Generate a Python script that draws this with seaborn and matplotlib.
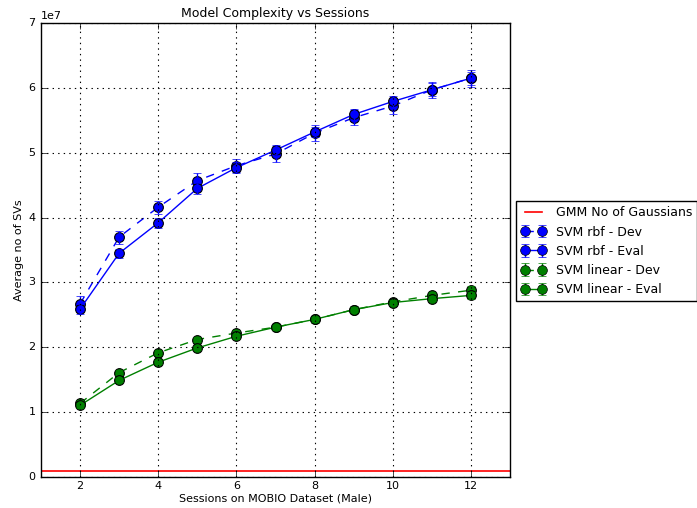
import matplotlib
matplotlib.use("Agg")
import matplotlib.pyplot as plt
import seaborn as sns
import numpy as np

sessions = [2, 3, 4, 5, 6, 7, 8, 9, 10, 11, 12]
rbf_dev = [2.67e7, 3.70e7, 4.16e7, 4.57e7, 4.80e7, 4.98e7, 5.30e7, 5.54e7, 5.72e7, 5.97e7, 6.15e7]
rbf_dev_err = [0.12e7, 0.10e7, 0.10e7, 0.12e7, 0.10e7, 0.12e7, 0.12e7, 0.12e7, 0.12e7, 0.12e7, 0.13e7]
rbf_eval = [2.59e7, 3.45e7, 3.92e7, 4.45e7, 4.77e7, 5.04e7, 5.32e7, 5.59e7, 5.79e7, 5.97e7, 6.15e7]
rbf_eval_err = [0.08e7, 0.07e7, 0.08e7, 0.08e7, 0.08e7, 0.08e7, 0.08e7, 0.08e7, 0.08e7, 0.10e7, 0.10e7]
lin_dev = [1.135e7, 1.61e7, 1.915e7, 2.12e7, 2.22e7, 2.31e7, 2.43e7, 2.58e7, 2.70e7, 2.80e7, 2.88e7]
lin_dev_err = [0.05e7, 0.04e7, 0.04e7, 0.04e7, 0.04e7, 0.05e7, 0.05e7, 0.05e7, 0.05e7, 0.05e7, 0.06e7]
lin_eval = [1.105e7, 1.49e7, 1.77e7, 1.99e7, 2.17e7, 2.31e7, 2.43e7, 2.58e7, 2.69e7, 2.75e7, 2.80e7]
lin_eval_err = [0.04e7, 0.03e7, 0.03e7, 0.03e7, 0.04e7, 0.04e7, 0.04e7, 0.04e7, 0.04e7, 0.04e7, 0.05e7]
gmm_gaussians = 1.0e6

sns.set_style("white")
plt.style.use("classic")
plt.rcParams["font.family"] = ["DejaVu Sans"]
plt.rcParams["font.size"] = 8

fig = plt.figure(figsize=(6.97, 5.08), dpi=100, facecolor="white")
ax = fig.add_axes([41/697, 1-477/508, (510-41)/697, (477-23)/508])

ax.axhline(gmm_gaussians, color="r", lw=1.2)

series = [
    (rbf_dev, rbf_dev_err, "b", "--"),
    (rbf_eval, rbf_eval_err, "b", "-"),
    (lin_dev, lin_dev_err, "g", "--"),
    (lin_eval, lin_eval_err, "g", "-"),
]
for vals, errs, c, ls in series:
    sns.lineplot(x=sessions, y=vals, ax=ax, color=c, linestyle=ls, marker="o",
                 markersize=7, markeredgecolor="k", markeredgewidth=0.8, lw=1.0,
                 legend=False, errorbar=None)
    ax.errorbar(sessions, vals, yerr=errs, fmt="none", ecolor=c, capsize=3, elinewidth=1)

labels = ["GMM No of Gaussians", "SVM rbf - Dev", "SVM rbf - Eval", "SVM linear - Dev", "SVM linear - Eval"]
handles = [plt.Line2D([], [], color="r", lw=1.2)]
for vals, errs, c, ls in series:
    h = ax.errorbar([np.nan], [np.nan], yerr=[np.nan], fmt="o", linestyle=ls, color=c,
                    markersize=7, markeredgecolor="k", markerfacecolor=c, capsize=3, lw=1.0)
    handles.append(h)

ax.set_xlim(1, 13)
ax.set_ylim(0, 7e7)
ax.set_xticks([2, 4, 6, 8, 10, 12])
ax.set_yticks(np.arange(0, 8e7, 1e7))
ax.grid(True, color="k", linestyle=":", lw=0.8)
ax.tick_params(labelsize=8)
ax.tick_params(axis="x", pad=3)
ax.set_title("Model Complexity vs Sessions", fontsize=9, pad=4)
ax.set_xlabel("Sessions on MOBIO Dataset (Male)", fontsize=8, labelpad=2)
ax.set_ylabel("Average no of SVs", fontsize=8, labelpad=3)
ax.yaxis.get_offset_text().set_fontsize(8)

ax.legend(handles, labels, loc="center left", bbox_to_anchor=(1 + 6/469, 0.497),
          borderaxespad=0, fontsize=9, numpoints=2, frameon=True, fancybox=False)

fig.savefig("out.png", dpi=100, facecolor="white")
